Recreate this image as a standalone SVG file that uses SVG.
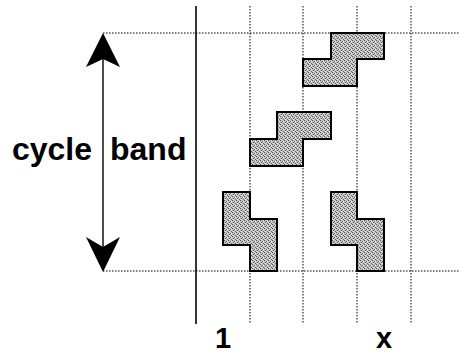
<svg xmlns="http://www.w3.org/2000/svg" width="460" height="355" viewBox="0 0 460 355">
<style>
.grid{stroke:#000;stroke-width:1;stroke-dasharray:1.5 1.5;fill:none}
.solid{stroke:#000;stroke-width:1.6;fill:none}
.shape{fill:url(#stip);stroke:#000;stroke-width:2;stroke-linejoin:miter}
.lbl{font-family:"Liberation Sans",Arial,sans-serif;font-weight:bold;fill:#000}
.arrow{stroke:#000;stroke-width:1.4;fill:none}
.head{fill:#000;stroke:none}
</style>
<defs>
<pattern id="stip" width="4" height="4" patternUnits="userSpaceOnUse">
<rect width="4" height="4" fill="#c2c2c2"/>
<rect x="0" y="0" width="1" height="1" fill="#555"/>
<rect x="2" y="1" width="1" height="1" fill="#666"/>
<rect x="1" y="2" width="1" height="1" fill="#555"/>
<rect x="3" y="3" width="1" height="1" fill="#666"/>
<rect x="3" y="1" width="1" height="1" fill="#eee"/>
<rect x="1" y="3" width="1" height="1" fill="#eee"/>
</pattern>
</defs>
<rect width="460" height="355" fill="#fff"/>
<g id="grid">
<line class="solid" x1="196" y1="6" x2="196" y2="324"/>
<line class="grid" x1="250" y1="6" x2="250" y2="324"/>
<line class="grid" x1="303" y1="6" x2="303" y2="324"/>
<line class="grid" x1="357" y1="6" x2="357" y2="324"/>
<line class="grid" x1="411" y1="6" x2="411" y2="324"/>
<line class="grid" x1="103" y1="33" x2="460" y2="33"/>
<line class="grid" x1="103" y1="271" x2="460" y2="271"/>
</g>
<g id="shape-top">
<polygon class="shape" points="331,33 384,33 384,59 357,59 357,86 303,86 303,59 331,59"/>
</g>
<g id="shape-middle">
<polygon class="shape" points="277,112 331,112 331,139 303,139 303,166 250,166 250,139 277,139"/>
</g>
<g id="shape-bottom-left">
<polygon class="shape" points="223,192 250,192 250,219 277,219 277,271 250,271 250,245 223,245"/>
</g>
<g id="shape-bottom-right">
<polygon class="shape" points="331,192 357,192 357,219 384,219 384,271 357,271 357,245 331,245"/>
</g>
<g id="connectors">
<line class="arrow" x1="103" y1="58" x2="103" y2="248"/>
<polygon class="head" points="103,33 120,67 103,59 86,67"/>
<polygon class="head" points="103,272 86,237 103,247 120,237"/>
</g>
<g id="label-cycle"><text class="lbl" x="92" y="160" font-size="32" text-anchor="end">cycle</text></g>
<g id="label-band"><text class="lbl" x="110" y="160" font-size="32">band</text></g>
<g id="label-1"><text class="lbl" x="223" y="348" font-size="29" text-anchor="middle">1</text></g>
<g id="label-x"><text class="lbl" x="384" y="348" font-size="29" text-anchor="middle">x</text></g>
</svg>
